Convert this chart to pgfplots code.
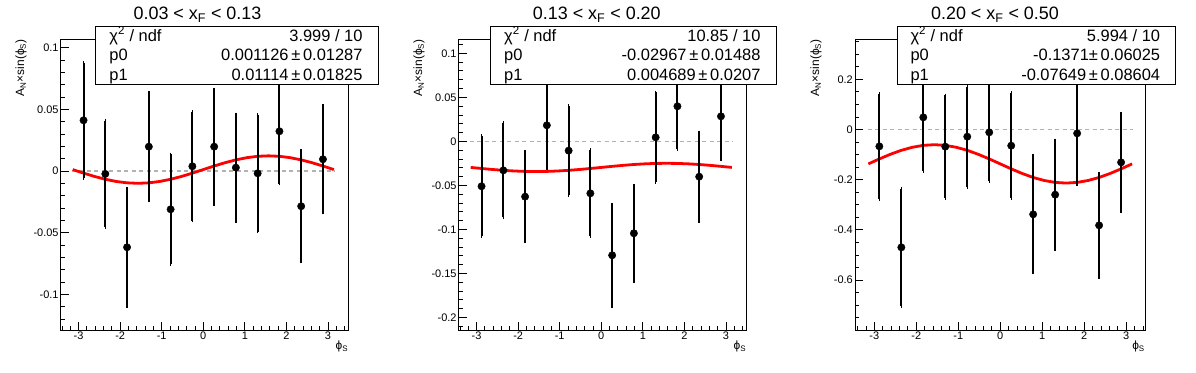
\documentclass[border=0pt]{standalone}
\usepackage{fontspec}
\setmainfont{Liberation Sans}
\usepackage{pgfplots}
\usepackage{pgfplotstable}
\pgfplotsset{compat=1.18}

% ---------------- data ----------------
\pgfplotstableread{
x      y        e
-2.880  0.0411  0.0466
-2.356 -0.0024  0.0433
-1.833 -0.0619  0.0476
-1.309  0.0197  0.0438
-0.785 -0.0311  0.0446
-0.262  0.0038  0.0440
 0.262  0.0197  0.0464
 0.785  0.0027  0.0432
 1.309 -0.0019  0.0473
 1.833  0.0322  0.0425
 2.356 -0.0286  0.0446
 2.880  0.0095  0.0433
}\dataA
\pgfplotstableread{
x      y        e
-2.880 -0.0511  0.0570
-2.356 -0.0330  0.0535
-1.833 -0.0629  0.0505
-1.309  0.0182  0.0490
-0.785 -0.0106  0.0505
-0.262 -0.0591  0.0490
 0.262 -0.1295  0.0576
 0.785 -0.1045  0.0541
 1.309  0.0045  0.0510
 1.833  0.0398  0.0490
 2.356 -0.0402  0.0502
 2.880  0.0284  0.0484
}\dataB
\pgfplotstableread{
x      y        e
-2.880 -0.0671  0.209
-2.356 -0.4698  0.233
-1.833  0.0485  0.214
-1.309 -0.0684  0.204
-0.785 -0.0286  0.200
-0.262 -0.0113  0.194
 0.262 -0.0645  0.210
 0.785 -0.3382  0.232
 1.309 -0.2598  0.216
 1.833 -0.0153  0.202
 2.356 -0.3821  0.205
 2.880 -0.1309  0.195
}\dataC

\pgfplotsset{
  rootaxis/.style={
    scale only axis,
    anchor=south west,
    height=290.7bp,
    axis line style={black, line width=0.8bp},
    every tick/.style={black, line width=0.8bp},
    major tick length=8bp,
    minor tick length=4bp,
    tick align=inside,
    xtick pos=bottom, ytick pos=left,
    xtick={-3,-2,...,3},
    minor xtick={-3.4,-3.2,...,3.45},
    tick label style={font=\fontsize{11}{13}\selectfont},
    /pgf/number format/assume math mode=true,
    /pgf/number format/fixed,
    scaled ticks=false,
    xticklabel style={inner sep=2bp},
    yticklabel style={inner sep=2bp},
    clip=false,
  },
  zeroline/.style={color=black!30, line width=1.5bp, dash pattern=on 4bp off 3.5bp},
  fitline/.style={red, line width=2.8bp},
  pts/.style={only marks, black, mark=*, mark size=3.7bp,
    mark options={fill=black, draw=black},
    error bars/.cd, y dir=both, y explicit,
    error bar style={line width=2.1bp, black},
    error mark options={mark size=1.8bp, line width=1.4bp, black}},
}

\newcommand{\statfont}{\fontsize{16.5}{19}\selectfont}
\newcommand{\titfont}{\fontsize{18}{21}\selectfont}
\newcommand{\labfont}{\fontsize{12}{14}\selectfont}

\begin{document}
\begin{tikzpicture}[x=1bp,y=1bp]
\useasboundingbox (0,0) rectangle (1196,372);

% ================= Panel 1 =================
\begin{axis}[rootaxis, at={(60.7bp,42bp)}, width=287.6bp,
  xmin=-3.43, xmax=3.49, ymin=-0.1290, ymax=0.1068,
  ytick={-0.1,-0.05,0,0.05,0.1},
  minor ytick={-0.12,-0.11,...,0.105}]
\addplot[zeroline] coordinates {(-3.16,0) (3.16,0)};
\addplot[fitline] coordinates {
(-3.1416,0.00113) (-2.8798,-0.00176) (-2.6180,-0.00444) (-2.3562,-0.00675)
(-2.0944,-0.00852) (-1.8326,-0.00963) (-1.5708,-0.01001) (-1.3090,-0.00963)
(-1.0472,-0.00852) (-0.7854,-0.00675) (-0.5236,-0.00444) (-0.2618,-0.00176)
(0,0.00113) (0.2618,0.00401) (0.5236,0.00670) (0.7854,0.00900)
(1.0472,0.01077) (1.3090,0.01189) (1.5708,0.01227) (1.8326,0.01189)
(2.0944,0.01077) (2.3562,0.00900) (2.6180,0.00670) (2.8798,0.00401)
(3.1416,0.00113)};
\addplot[pts] table[x=x,y=y,y error=e] {\dataA};
\end{axis}
\draw[line width=0.8bp, fill=white] (95.7,287.7) rectangle (378.3,346);
\node[anchor=base west, inner sep=0, font=\statfont] at (109.3,331) {χ\textsuperscript{2} / ndf};
\node[anchor=base west, inner sep=0, font=\statfont] at (109.3,311.5) {p0};
\node[anchor=base west, inner sep=0, font=\statfont] at (109.3,292) {p1};
\node[anchor=base east, inner sep=0, font=\statfont] at (362.7,331) {3.999 / 10};
\node[anchor=base east, inner sep=0, font=\statfont] at (362.7,311.5) {0.001126\,±\,0.01287};
\node[anchor=base east, inner sep=0, font=\statfont] at (362.7,292) {0.01114\,±\,0.01825};
\node[anchor=base, inner sep=0, font=\titfont] at (197.5,352.7) {0.03 < x\textsubscript{F} < 0.13};
\node[anchor=east, rotate=90, inner sep=0, font=\labfont] at (21,332.7) {A\textsubscript{N}×sin(ϕ\textsubscript{S})};
\node[anchor=north east, inner sep=0, font=\labfont] at (348.3,31) {ϕ\textsubscript{S}};

% ================= Panel 2 =================
\begin{axis}[rootaxis, at={(458.7bp,42bp)}, width=287.6bp,
  xmin=-3.43, xmax=3.49, ymin=-0.2144, ymax=0.1159,
  ytick={-0.2,-0.15,-0.1,-0.05,0,0.05,0.1},
  minor ytick={-0.21,-0.20,...,0.115}]
\addplot[zeroline] coordinates {(-3.16,0) (3.16,0)};
\addplot[fitline] coordinates {
(-3.1416,-0.02967) (-2.8798,-0.03088) (-2.6180,-0.03202) (-2.3562,-0.03299)
(-2.0944,-0.03373) (-1.8326,-0.03420) (-1.5708,-0.03436) (-1.3090,-0.03420)
(-1.0472,-0.03373) (-0.7854,-0.03299) (-0.5236,-0.03202) (-0.2618,-0.03088)
(0,-0.02967) (0.2618,-0.02846) (0.5236,-0.02733) (0.7854,-0.02635)
(1.0472,-0.02561) (1.3090,-0.02514) (1.5708,-0.02498) (1.8326,-0.02514)
(2.0944,-0.02561) (2.3562,-0.02635) (2.6180,-0.02733) (2.8798,-0.02846)
(3.1416,-0.02967)};
\addplot[pts] table[x=x,y=y,y error=e] {\dataB};
\end{axis}
\draw[line width=0.8bp, fill=white] (490.3,288) rectangle (776.3,346);
\node[anchor=base west, inner sep=0, font=\statfont] at (504,331) {χ\textsuperscript{2} / ndf};
\node[anchor=base west, inner sep=0, font=\statfont] at (504,311.5) {p0};
\node[anchor=base west, inner sep=0, font=\statfont] at (504,292) {p1};
\node[anchor=base east, inner sep=0, font=\statfont] at (760.7,331) {10.85 / 10};
\node[anchor=base east, inner sep=0, font=\statfont] at (760.7,311.5) {-0.02967\,±\,0.01488};
\node[anchor=base east, inner sep=0, font=\statfont] at (760.7,292) {0.004689\,±\,0.0207};
\node[anchor=base, inner sep=0, font=\titfont] at (596.8,352.7) {0.13 < x\textsubscript{F} < 0.20};
\node[anchor=east, rotate=90, inner sep=0, font=\labfont] at (419,332.7) {A\textsubscript{N}×sin(ϕ\textsubscript{S})};
\node[anchor=north east, inner sep=0, font=\labfont] at (746.3,31) {ϕ\textsubscript{S}};

% ================= Panel 3 =================
\begin{axis}[rootaxis, at={(855bp,42bp)}, width=290bp,
  xmin=-3.46, xmax=3.45, ymin=-0.7994, ymax=0.3596,
  ytick={-0.6,-0.4,-0.2,0,0.2},
  minor ytick={-0.75,-0.70,...,0.355}]
\addplot[zeroline] coordinates {(-3.16,0) (3.16,0)};
\addplot[fitline] coordinates {
(-3.1416,-0.1371) (-2.8798,-0.1173) (-2.6180,-0.0989) (-2.3562,-0.0830)
(-2.0944,-0.0709) (-1.8326,-0.0632) (-1.5708,-0.0606) (-1.3090,-0.0632)
(-1.0472,-0.0709) (-0.7854,-0.0830) (-0.5236,-0.0989) (-0.2618,-0.1173)
(0,-0.1371) (0.2618,-0.1569) (0.5236,-0.1754) (0.7854,-0.1912)
(1.0472,-0.2033) (1.3090,-0.2110) (1.5708,-0.2136) (1.8326,-0.2110)
(2.0944,-0.2033) (2.3562,-0.1912) (2.6180,-0.1754) (2.8798,-0.1569)
(3.1416,-0.1371)};
\addplot[pts] table[x=x,y=y,y error=e] {\dataC};
\end{axis}
\draw[line width=0.8bp, fill=white] (897.7,288) rectangle (1175.3,346);
\node[anchor=base west, inner sep=0, font=\statfont] at (910.3,331) {χ\textsuperscript{2} / ndf};
\node[anchor=base west, inner sep=0, font=\statfont] at (910.3,311.5) {p0};
\node[anchor=base west, inner sep=0, font=\statfont] at (910.3,292) {p1};
\node[anchor=base east, inner sep=0, font=\statfont] at (1160.3,331) {5.994 / 10};
\node[anchor=base east, inner sep=0, font=\statfont] at (1160.3,311.5) {-0.1371±\,0.06025};
\node[anchor=base east, inner sep=0, font=\statfont] at (1160.3,292) {-0.07649\,±\,0.08604};
\node[anchor=base, inner sep=0, font=\titfont] at (995,352.7) {0.20 < x\textsubscript{F} < 0.50};
\node[anchor=east, rotate=90, inner sep=0, font=\labfont] at (816,332.7) {A\textsubscript{N}×sin(ϕ\textsubscript{S})};
\node[anchor=north east, inner sep=0, font=\labfont] at (1145,31) {ϕ\textsubscript{S}};
\end{tikzpicture}
\end{document}
